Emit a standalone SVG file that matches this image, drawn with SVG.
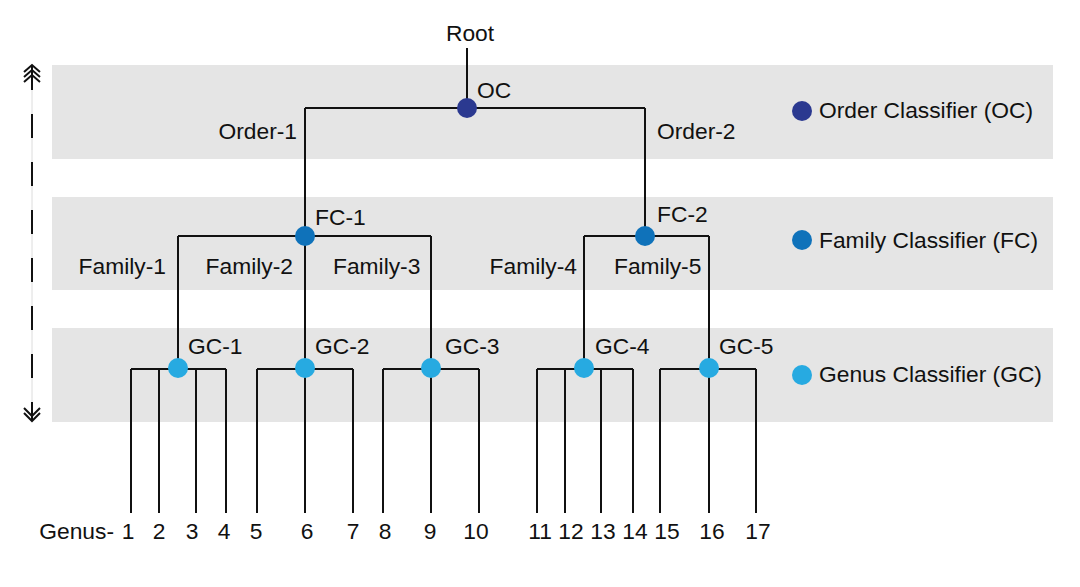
<svg xmlns="http://www.w3.org/2000/svg" width="1080" height="587" viewBox="0 0 1080 587">
<style>
.band{fill:#e5e5e5}
.t{font-family:"Liberation Sans",Arial,sans-serif;font-size:22.8px;fill:#111}
.e{text-anchor:end}
.m{text-anchor:middle}
.ln{fill:none;stroke:#111;stroke-width:2}
.oc{fill:#2b3990}
.fc{fill:#0f72ba}
.gc{fill:#27aae1}
</style>
<rect width="1080" height="587" fill="#fff"/>
<g id="bands">
<rect class="band" x="52" y="65" width="1001" height="94"/>
<rect class="band" x="52" y="197" width="1001" height="93"/>
<rect class="band" x="52" y="328" width="1001" height="94"/>
</g>
<g id="flow-arrow">
<line x1="32" y1="66" x2="32" y2="420" stroke="#dcdcdc" stroke-width="1"/>
<line x1="32" y1="66" x2="32" y2="420" stroke="#111" stroke-width="2" stroke-dasharray="24 24"/>
<path class="ln" d="M24 72 L32 65 L40 72 M24 77 L32 70 L40 77 M24 82 L32 75 L40 82"/>
<path class="ln" d="M24 408 L32 416 L40 408 M24 413 L32 421 L40 413"/>
</g>
<g id="connectors">
<path class="ln" d="M467 48 V108 M305 108 H645 M305 108 V236 M645 108 V236"/>
<path class="ln" d="M178 236 H431 M178 236 V369 M305 236 V369 M431 236 V369"/>
<path class="ln" d="M584 236 H709 M584 236 V369 M709 236 V369"/>
<path class="ln" d="M131 369 H226 M131 369 V513 M159 369 V513 M196 369 V513 M226 369 V513"/>
<path class="ln" d="M257 369 H353 M257 369 V513 M305 369 V513 M353 369 V513"/>
<path class="ln" d="M383 369 H479 M383 369 V513 M431 369 V513 M479 369 V513"/>
<path class="ln" d="M537 369 H633 M537 369 V513 M565 369 V513 M601 369 V513 M633 369 V513"/>
<path class="ln" d="M660 369 H756 M660 369 V513 M709 369 V513 M756 369 V513"/>
</g>
<g id="root"><text class="t m" x="470" y="41">Root</text></g>
<g id="OC"><circle class="oc" cx="467" cy="108" r="10"/><text class="t" x="477" y="98">OC</text></g>
<g id="edge-labels">
<text class="t e" x="297" y="139">Order-1</text>
<text class="t" x="657" y="139">Order-2</text>
<text class="t e" x="166" y="274">Family-1</text>
<text class="t e" x="293" y="274">Family-2</text>
<text class="t" x="333" y="274">Family-3</text>
<text class="t e" x="577" y="274">Family-4</text>
<text class="t" x="614" y="274">Family-5</text>
</g>
<g id="FC-1"><circle class="fc" cx="305" cy="236" r="10"/><text class="t" x="315" y="225">FC-1</text></g>
<g id="FC-2"><circle class="fc" cx="645" cy="236" r="10"/><text class="t" x="657" y="222">FC-2</text></g>
<g id="GC-1"><circle class="gc" cx="178" cy="368" r="10"/><text class="t" x="188" y="354">GC-1</text></g>
<g id="GC-2"><circle class="gc" cx="305" cy="368" r="10"/><text class="t" x="315" y="354">GC-2</text></g>
<g id="GC-3"><circle class="gc" cx="431" cy="368" r="10"/><text class="t" x="445" y="354">GC-3</text></g>
<g id="GC-4"><circle class="gc" cx="584" cy="368" r="10"/><text class="t" x="595" y="354">GC-4</text></g>
<g id="GC-5"><circle class="gc" cx="709" cy="368" r="10"/><text class="t" x="719" y="354">GC-5</text></g>
<g id="genus-labels">
<text class="t e" x="114" y="539">Genus-</text>
<text class="t m" x="128" y="539">1</text>
<text class="t m" x="159" y="539">2</text>
<text class="t m" x="192" y="539">3</text>
<text class="t m" x="224" y="539">4</text>
<text class="t m" x="256" y="539">5</text>
<text class="t m" x="307" y="539">6</text>
<text class="t m" x="353" y="539">7</text>
<text class="t m" x="385" y="539">8</text>
<text class="t m" x="430" y="539">9</text>
<text class="t m" x="476" y="539">10</text>
<text class="t m" x="540" y="539">11</text>
<text class="t m" x="571" y="539">12</text>
<text class="t m" x="603" y="539">13</text>
<text class="t m" x="635" y="539">14</text>
<text class="t m" x="667" y="539">15</text>
<text class="t m" x="712" y="539">16</text>
<text class="t m" x="758" y="539">17</text>
</g>
<g id="legend">
<circle class="oc" cx="802" cy="111" r="10"/><text class="t" x="819" y="118">Order Classifier (OC)</text>
<circle class="fc" cx="802" cy="240" r="10"/><text class="t" x="819" y="248">Family Classifier (FC)</text>
<circle class="gc" cx="802" cy="375" r="10"/><text class="t" x="819" y="382">Genus Classifier (GC)</text>
</g>
</svg>
